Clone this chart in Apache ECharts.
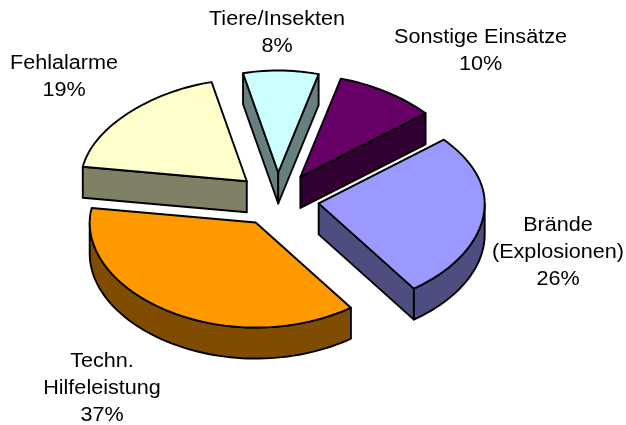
<!DOCTYPE html>
<html>
<head>
<meta charset="utf-8">
<style>html,body{margin:0;padding:0;background:#fff}#c{width:626px;height:425px}</style>
<script src="https://cdn.jsdelivr.net/npm/echarts@6/dist/echarts.min.js"></script>
</head>
<body>
<div id="c"></div>
<script>
// Data
const categories = ['Sonstige Einsätze', 'Brände\n(Explosionen)', 'Techn.\nHilfeleistung', 'Fehlalarme', 'Tiere/Insekten'];
const percents = [10, 26, 37, 19, 8];

// Styles
const topColors = ['#660066', '#9999FF', '#FF9900', '#FFFFCC', '#CCFFFF'];
const sideColors = ['#330033', '#4D4D80', '#804D00', '#808066', '#668080'];
const labelCenters = [[480.5, 51], [558, 252], [102, 388], [64, 77], [277, 33]];

// Projection of the tilted pie
const CX = 277.5, CY = 199.5, RX = 166, RY = 102, DEPTH = 31;
const EXPLODE_X = 41.6, EXPLODE_Y = 27, FAR_NARROW = 0.09, NEAR_TALL = 0.03;
const START_DEG = 15.4;

function rimPoint(deg) {
  const t = deg * Math.PI / 180;
  const c = Math.cos(t);
  const far = Math.max(c, 0), near = Math.max(-c, 0);
  return [RX * Math.sin(t) * (1 - FAR_NARROW * far * far), -RY * c * (1 + NEAR_TALL * near * near)];
}
function arc(a, b) {
  const out = [];
  const n = Math.max(2, Math.ceil(Math.abs(b - a) / 2));
  for (let i = 0; i <= n; i++) out.push(rimPoint(a + (b - a) * i / n));
  return out;
}
const total = percents.reduce((s, v) => s + v, 0);
const line = { stroke: '#000', lineWidth: 1.9, lineJoin: 'round' };

function renderItem(params, api) {
  const i = params.dataIndex;
  let before = 0;
  for (let k = 0; k < i; k++) before += percents[k];
  const value = api.value(1);
  const a0 = START_DEG + before / total * 360;
  const a1 = a0 + value / total * 360;
  const mid = (a0 + a1) / 2, mt = mid * Math.PI / 180;
  const ax = CX + EXPLODE_X * Math.sin(mt), ay = CY - EXPLODE_Y * Math.cos(mt);
  const place = (p, dy) => [ax + p[0], ay + p[1] + (dy || 0)];
  const children = [];
  const poly = (pts, fill) => children.push({
    type: 'polygon', shape: { points: pts },
    style: Object.assign({ fill: fill }, line)
  });
  const m = rimPoint(mid);
  [a0, a1].forEach(deg => {
    const e = rimPoint(deg);
    const lineY = e[1] / e[0] * m[0];
    if (m[1] < lineY) {
      poly([place([0, 0]), place(e), place(e, DEPTH), place([0, 0], DEPTH)], sideColors[i]);
    }
  });
  const f0 = Math.max(a0, 90), f1 = Math.min(a1, 270);
  if (f1 > f0) {
    const rim = arc(f0, f1);
    const upper = rim.map(p => place(p));
    const lower = rim.map(p => place(p, DEPTH)).reverse();
    poly(upper.concat(lower), sideColors[i]);
  }
  poly([place([0, 0])].concat(arc(a0, a1).map(p => place(p))), topColors[i]);
  children.push({
    type: 'text',
    x: labelCenters[i][0], y: labelCenters[i][1],
    scaleX: 1.08,
    style: {
      text: categories[i] + '\n' + value + '%',
      x: 0, y: 0,
      align: 'center', verticalAlign: 'middle',
      fontFamily: 'Liberation Sans', fontSize: 20, lineHeight: 27, fill: '#000'
    }
  });
  return { type: 'group', children: children };
}

const chart = echarts.init(document.getElementById('c'), null, { renderer: 'canvas' });
chart.setOption({
  animation: false,
  backgroundColor: '#fff',
  series: [{
    type: 'custom',
    coordinateSystem: 'none',
    renderItem: renderItem,
    silent: true,
    data: percents.map((v, i) => [i, v])
  }]
});
</script>
</body>
</html>
